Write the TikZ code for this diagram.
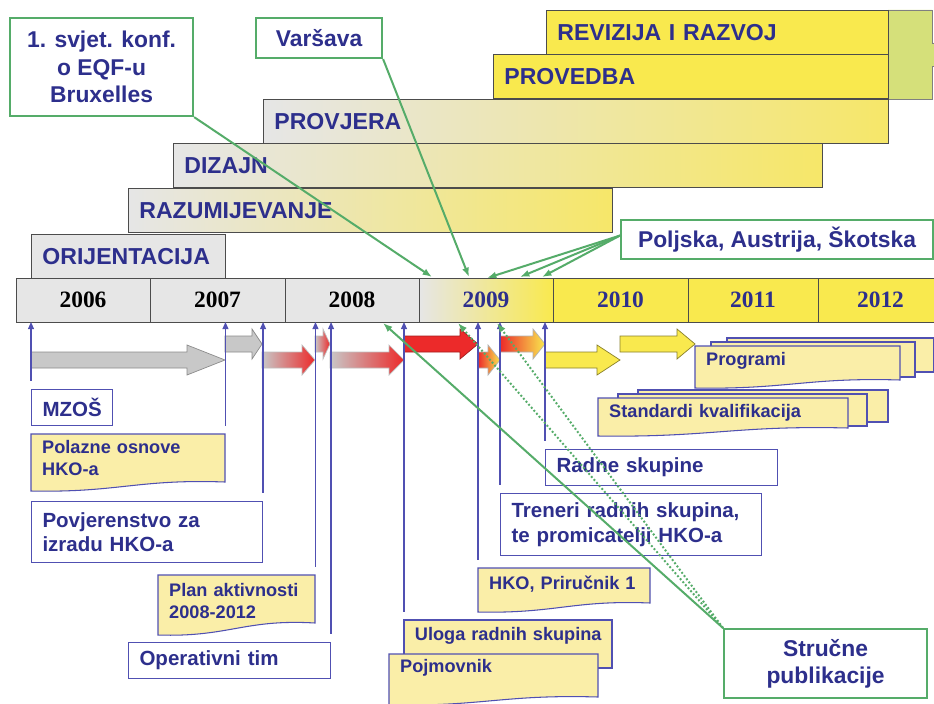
\documentclass[tikz,border=0pt]{standalone}
\usepackage{fontspec}
\setmainfont{Liberation Sans}
\newfontfamily\yearfont{Liberation Serif}
\usetikzlibrary{arrows.meta,positioning}

\newdimen\pxu
\pxu=0.03cm

\definecolor{hkoblue}{RGB}{45,47,140}
\definecolor{lineblue}{RGB}{80,80,178}
\definecolor{callgreen}{RGB}{85,172,105}
\definecolor{baryellow}{RGB}{249,233,78}
\definecolor{phaseyellow}{RGB}{246,231,105}
\definecolor{docyellow}{RGB}{250,238,168}
\definecolor{bargray}{RGB}{230,230,230}
\definecolor{limegreen}{RGB}{213,224,122}
\definecolor{flowred}{RGB}{236,42,42}
\definecolor{flowgray}{RGB}{200,200,200}

\tikzset{
  phase/.style={draw=black!70, line width=0.7pt, anchor=north west, minimum height=44\pxu,
    inner xsep=11\pxu, inner ysep=0pt, align=left, text=hkoblue,
    font=\fontsize{19.7}{23}\selectfont\bfseries},
  yearcell/.style={draw=black!70, line width=0.7pt, outer sep=0pt, anchor=north west,
    minimum height=44\pxu, inner sep=0pt, font=\yearfont\fontsize{20}{24}\selectfont\bfseries},
  callout/.style={draw=callgreen, line width=1.8pt, fill=white, anchor=north west, inner sep=0pt,
    align=center, text=hkoblue, font=\fontsize{19.5}{23.3}\selectfont\bfseries},
  wbox/.style={draw=lineblue, line width=0.9pt, fill=white, anchor=north west,
    inner xsep=11\pxu, inner ysep=0pt, align=left, text=hkoblue,
    font=\fontsize{17.5}{21}\selectfont\bfseries},
  doctext/.style={anchor=north west, inner xsep=11\pxu, inner ysep=0pt, align=left, text=hkoblue,
    font=\fontsize{15.5}{18.6}\selectfont\bfseries},
  docfill/.style={draw=lineblue, line width=0.9pt, fill=docyellow},
  flow/.style={draw=black!40, line width=0.6pt},
  markline/.style={draw=lineblue, line width=1.1pt, {Triangle[length=6pt,width=5pt]}-},
  pubarrow/.style={draw=callgreen, line width=1.7pt, -{Latex[length=8pt,width=6pt]}},
  pubdots/.style={pubarrow, dash pattern=on 1.6pt off 1.8pt},
}

% yellow box with a wavy lower edge: name, x, y, w, h, wave, node options, text
\newcommand{\docbox}[8]{%
  \path[docfill] (#2,#3) -- (#2+#4,#3) -- (#2+#4,#3+#5)
    .. controls (#2+0.55*#4,#3+#5-0.35*#6) and (#2+0.45*#4,#3+#5+1.2*#6) .. (#2,#3+#5+#6) -- cycle;
  \node[doctext,#7] (#1) at (#2,#3) {#8};
}
% block arrow: [style], x start, head start, tip, body top
\newcommand{\flowarrow}[5][]{%
  \path[flow,#1] (#2,#5) -- (#3,#5) -- (#3,#5-7) -- (#4,#5+8) -- (#3,#5+23)
    -- (#3,#5+16) -- (#2,#5+16) -- cycle;
}

\begin{document}
\begin{tikzpicture}[x=0.03cm,y=-0.03cm]
	\useasboundingbox (0,0) rectangle (934,703);
	\clip (0,0) rectangle (934,703);
	\fill[white] (0,0) rectangle (934,703);

	% phases
	\path[draw=black!50, fill=limegreen, line width=0.7pt] (888,10) -- (932,10) -- (932,43) -- (950,43)
		-- (950,66) -- (932,66) -- (932,99) -- (888,99) -- cycle;
	\node[phase, fill=baryellow, text width=320\pxu] (revizija) at (546,10) {REVIZIJA I RAZVOJ};
	\node[phase, fill=baryellow, text width=373\pxu] (provedba) at (493,54) {PROVEDBA};
	\node[phase, left color=bargray, right color=phaseyellow, text width=603\pxu] (provjera) at (263,99) {PROVJERA};
	\node[phase, left color=bargray, right color=phaseyellow, text width=627\pxu] (dizajn) at (173,143) {DIZAJN};
	\node[phase, left color=bargray, right color=phaseyellow, text width=462\pxu] (razum) at (128,188) {RAZUMIJEVANJE};
	\node[phase, fill=bargray, text width=172\pxu] (orijent) at (31,234) {ORIJENTACIJA};

	% years
	\node[yearcell, fill=bargray, minimum width=134\pxu] (y2006) at (16,278) {2006};
	\node[yearcell, fill=bargray, minimum width=135\pxu, right=0pt of y2006] (y2007) {2007};
	\node[yearcell, fill=bargray, minimum width=134\pxu, right=0pt of y2007] (y2008) {2008};
	\node[yearcell, left color=bargray, middle color=baryellow!65!bargray, right color=baryellow,
		text=hkoblue, minimum width=134\pxu, right=0pt of y2008] (y2009) {2009};
	\node[yearcell, fill=baryellow, text=hkoblue, minimum width=135\pxu, right=0pt of y2009] (y2010) {2010};
	\node[yearcell, fill=baryellow, text=hkoblue, minimum width=130\pxu, right=0pt of y2010] (y2011) {2011};
	\node[yearcell, fill=baryellow, text=hkoblue, minimum width=125\pxu, right=0pt of y2011] (y2012) {2012};

	% conferences
	\node[callout, minimum width=183\pxu, minimum height=98\pxu] (conf) at (9,17) {1. svjet. konf.\\o EQF-u\\Bruxelles};
	\node[callout, minimum width=126\pxu, minimum height=40\pxu] (vars) at (255,17) {Varšava};
	\node[callout, minimum width=312\pxu, minimum height=39\pxu] (polj) at (620,219) {Poljska, Austrija, Škotska};

	\coordinate (c1) at (432,277);
	\coordinate (c2) at (469,277);
	\coordinate (c3) at (487,278);
	\coordinate (c4) at (520,277);
	\coordinate (c5) at (542,277);
	\draw[pubarrow] (conf.south east) -- (c1);
	\draw[pubarrow] (vars.south east) -- (c2);
	\draw[pubarrow] ([yshift=4\pxu]polj.west) -- (c3);
	\draw[pubarrow] ([yshift=4\pxu]polj.west) -- (c4);
	\draw[pubarrow] ([yshift=4\pxu]polj.west) -- (c5);

	% process arrows
	\flowarrow[fill=flowgray, draw=black!45]{31}{187}{225}{352}
	\flowarrow[fill=flowgray, draw=black!45]{225}{252}{262}{336}
	\flowarrow[left color=flowgray, right color=flowred, draw=black!25]{262}{302}{315}{352}
	\flowarrow[left color=flowgray, right color=flowred, draw=black!25]{315}{323}{330}{336}
	\flowarrow[left color=flowgray, right color=flowred, draw=black!25]{330}{389}{404}{352}
	\flowarrow[fill=flowred, draw=flowred!70!black]{404}{460}{478}{336}
	\flowarrow[left color=flowred, right color=baryellow, draw=black!30]{478}{488}{500}{352}
	\flowarrow[left color=flowred, right color=baryellow, draw=black!30]{500}{533}{545}{336}
	\flowarrow[fill=baryellow, draw=baryellow!55!black]{545}{597}{620}{352}
	\flowarrow[fill=baryellow, draw=baryellow!55!black]{620}{677}{695}{336}

	% results
	\node[wbox, text width=59\pxu, minimum height=36\pxu] (mzos) at (31,389) {MZOŠ};
	\docbox{polazne}{31}{434}{194}{48}{9}{text width=172\pxu, minimum height=48\pxu}{Polazne osnove\\HKO-a}
	\node[wbox, text width=209\pxu, minimum height=61\pxu] (povj) at (31,501) {Povjerenstvo za\\izradu HKO-a};
	\docbox{plan}{158}{575}{157}{48}{12}{text width=135\pxu, minimum height=52\pxu}{Plan aktivnosti\\2008-2012}
	\node[wbox, text width=180\pxu, minimum height=36\pxu] (oper) at (128,642) {Operativni tim};
	\docbox{uloga}{404}{620}{208}{48}{0}{text width=200\pxu, inner xsep=4\pxu, minimum height=32\pxu, align=center}{Uloga radnih skupina}
	\docbox{pojm}{389}{654}{209}{43}{8}{text width=187\pxu, minimum height=28\pxu}{Pojmovnik}
	\docbox{hko}{478}{568}{172}{35}{9}{text width=150\pxu, minimum height=32\pxu}{HKO, Priručnik 1}
	\node[wbox, text width=239\pxu, minimum height=62\pxu] (treneri) at (500,493) {Treneri radnih skupina,\\te promicatelji HKO-a};
	\node[wbox, text width=210\pxu, minimum height=36\pxu] (radne) at (545,449) {Radne skupine};
	\path[docfill] (638,390) rectangle (888,422);
	\path[docfill] (618,394) rectangle (867,426);
	\docbox{stand}{598}{398}{250}{30}{8}{text width=228\pxu, minimum height=30\pxu}{Standardi kvalifikacija}
	\path[docfill] (727,338) rectangle (934,372);
	\path[docfill] (711,342) rectangle (915,377);
	\docbox{prog}{695}{346}{205}{34}{8}{text width=183\pxu, minimum height=30\pxu}{Programi}

	% markers
	\draw[markline] (mzos.north west |- y2006.south) -- ([yshift=8\pxu]mzos.north west);
	\draw[markline] (polazne.north east |- y2006.south) -- ([yshift=8\pxu]polazne.north east);
	\draw[markline] (povj.north east |- y2006.south) -- ([yshift=8\pxu]povj.north east);
	\draw[markline] (plan.north east |- y2006.south) -- ([yshift=8\pxu]plan.north east);
	\draw[markline] (oper.north east |- y2006.south) -- ([yshift=8\pxu]oper.north east);
	\draw[markline] (uloga.north west |- y2006.south) -- ([yshift=8\pxu]uloga.north west);
	\draw[markline] (hko.north west |- y2006.south) -- ([yshift=8\pxu]hko.north west);
	\draw[markline] (treneri.north west |- y2006.south) -- ([yshift=8\pxu]treneri.north west);
	\draw[markline] (radne.north west |- y2006.south) -- ([yshift=8\pxu]radne.north west);

	% publications
	\node[callout, minimum width=203\pxu, minimum height=69\pxu] (stru) at (723,628) {Stručne\\publikacije};
	\coordinate (s1) at (383,323);
	\coordinate (s2) at (458,323);
	\coordinate (s3) at (497,323);
	\draw[pubarrow] (stru.north west) -- (s1);
	\draw[pubdots] (stru.north west) -- (s2);
	\draw[pubdots] (stru.north west) -- (s3);
\end{tikzpicture}
\end{document}
